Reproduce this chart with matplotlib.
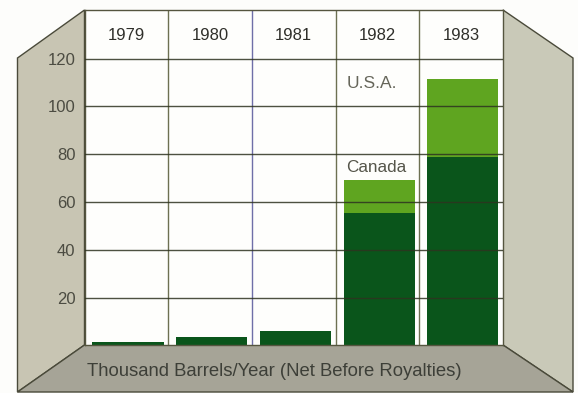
import matplotlib
matplotlib.use('Agg')
import matplotlib.pyplot as plt
from matplotlib.patches import Polygon

years = ['1979', '1980', '1981', '1982', '1983']
canada = [1.4, 3.3, 6.0, 55.4, 78.7]
usa = [0, 0, 0, 13.6, 32.7]
y_ticks = [20, 40, 60, 80, 100, 120]

W, H = 578, 393
plt.rcParams['font.family'] = ['Liberation Sans', 'DejaVu Sans']
fig = plt.figure(figsize=(W / 100, H / 100), dpi=100, facecolor='#fdfdfb')

# walls and floor are drawn in pixel coordinates behind the chart
bg = fig.add_axes([0, 0, 1, 1])
bg.set_xlim(0, W)
bg.set_ylim(H, 0)
bg.axis('off')
edge = '#4a4a3a'
bg.add_patch(Polygon([(84.5, 10), (17.5, 58), (17.5, 392), (84.5, 345)], fc='#c8c5b3', ec=edge, lw=1))
bg.add_patch(Polygon([(503, 10), (573, 58), (573, 392), (503, 345)], fc='#c9c9b8', ec=edge, lw=1))
bg.add_patch(Polygon([(84.5, 345), (503, 345), (573, 392), (17.5, 392)], fc='#a6a497', ec=edge, lw=1))

ax = fig.add_axes([84.5 / W, 1 - 345.3 / H, (503 - 84.5) / W, (345.3 - 10) / H], facecolor='#fefefc')
ax.set_xlim(0, 5)
ax.set_ylim(0, 140.3)

x = [i + 0.52 for i in range(len(years))]
ax.bar(x, canada, width=0.85, color='#0a551b', zorder=2)
ax.bar(x, usa, width=0.85, bottom=canada, color='#5fa520', zorder=2)

for t in y_ticks:
    ax.axhline(t, color='#2e3320', lw=1, alpha=0.85, zorder=3)
for i in range(1, 5):
    ax.axvline(i, color='#6f6fa8' if i == 2 else '#6d7052', lw=1, zorder=1)

ax.set_xticks([])
ax.set_yticks(y_ticks)
ax.set_yticklabels([str(t) for t in y_ticks], fontsize=12, color='#4c4c42')
ax.tick_params(axis='y', length=0, pad=6.5)
for s in ax.spines.values():
    s.set_color('#55553f')
    s.set_linewidth(1)

for i, year in enumerate(years):
    ax.text(i + 0.5, 129.6, year, ha='center', va='center', fontsize=12, color='#2f2f2a')

ax.text(3.43, 109.5, 'U.S.A.', ha='center', va='center', fontsize=12.5, color='#66665a')
ax.text(3.49, 74.5, 'Canada', ha='center', va='center', fontsize=12.3, color='#55554a')

bg.text(87, 371, 'Thousand Barrels/Year (Net Before Royalties)', ha='left', va='center',
        fontsize=13.3, color='#3d3f38')

fig.savefig('out.png', dpi=100, facecolor=fig.get_facecolor())
